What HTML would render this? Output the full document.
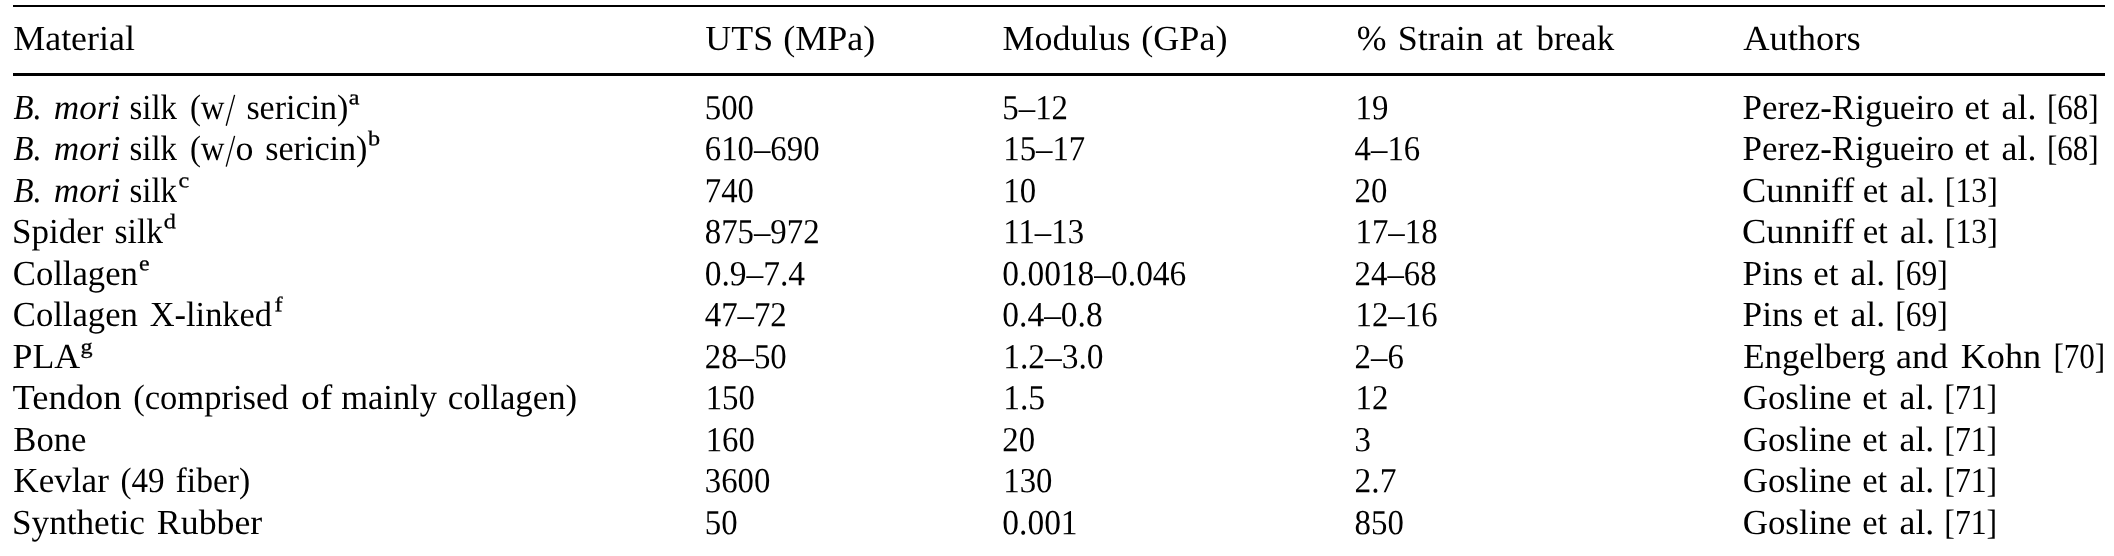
<!DOCTYPE html>
<html><head><meta charset="utf-8"><title>Table</title>
<style>
html,body{margin:0;padding:0;background:#fff;}
body{width:2114px;height:556px;position:relative;overflow:hidden;font-family:"Liberation Serif", serif;color:#000;}
.t{position:absolute;left:0;top:0;white-space:nowrap;line-height:1;font-size:35.3px;transform-origin:0 0;-webkit-text-stroke:0px #000;}
.s{font-size:21px;-webkit-text-stroke:0.3px #000;}
.i{font-style:italic;}
.r{position:absolute;left:13px;width:2092px;background:#000;}
#L{position:absolute;left:0;top:0;width:2114px;height:556px;will-change:transform;}
svg{position:absolute;left:0;top:0;}
</style></head><body>
<div class="r" style="top:5px;height:2px"></div>
<div class="r" style="top:73px;height:3px"></div>
<div id="L">
<svg width="2114" height="556" viewBox="0 0 2114 556"><line x1="226.20" y1="125.70" x2="234.60" y2="94.90" stroke="#000" stroke-width="1.35"/><line x1="226.20" y1="166.66" x2="234.60" y2="135.86" stroke="#000" stroke-width="1.35"/></svg>
<span class="t" style="transform:translate(13.29px,20.92px) scaleX(1.0170) rotate(0.03deg)">Material</span>
<span class="t" style="transform:translate(705.39px,20.92px) scaleX(1.0163) rotate(0.03deg)">UTS</span>
<span class="t" style="transform:translate(783.23px,20.92px) scaleX(1.0191) rotate(0.03deg)">(MPa)</span>
<span class="t" style="transform:translate(1002.49px,20.92px) scaleX(1.0199) rotate(0.03deg)">Modulus</span>
<span class="t" style="transform:translate(1141.22px,20.92px) scaleX(1.0229) rotate(0.03deg)">(GPa)</span>
<span class="t" style="transform:translate(1356.83px,20.92px) scaleX(1.0117) rotate(0.03deg)">%</span>
<span class="t" style="transform:translate(1397.80px,20.92px) scaleX(1.0181) rotate(0.03deg)">Strain</span>
<span class="t" style="transform:translate(1495.68px,20.92px) scaleX(1.0615) rotate(0.03deg)">at</span>
<span class="t" style="transform:translate(1536.45px,20.92px) scaleX(0.9912) rotate(0.03deg)">break</span>
<span class="t" style="transform:translate(1743.15px,20.92px) scaleX(1.0329) rotate(0.03deg)">Authors</span>
<span class="t i" style="transform:translate(13.55px,89.92px) scaleX(0.9302) rotate(0.03deg)">B.</span>
<span class="t i" style="transform:translate(53.75px,89.92px) scaleX(0.9969) rotate(0.03deg)">mori</span>
<span class="t" style="transform:translate(129.52px,89.92px) scaleX(0.9299) rotate(0.03deg)">silk</span>
<span class="t" style="transform:translate(189.92px,89.92px) scaleX(0.9299) rotate(0.03deg)">(w</span>
<span class="t" style="transform:translate(246.39px,89.92px) scaleX(0.9645) rotate(0.03deg)">sericin)</span>
<span class="t s" style="transform:translate(348.84px,87.33px) scaleX(1.1500) rotate(0.03deg)">a</span>
<span class="t" style="transform:translate(1742.60px,89.92px) scaleX(0.9905) rotate(0.03deg)">Perez-Rigueiro</span>
<span class="t" style="transform:translate(1964.47px,89.92px) scaleX(0.9758) rotate(0.03deg)">et</span>
<span class="t" style="transform:translate(2001.63px,89.92px) scaleX(1.0164) rotate(0.03deg)">al.</span>
<span class="t" style="transform:translate(2046.91px,89.92px) scaleX(0.8815) rotate(0.03deg)">[68]</span>
<span class="t i" style="transform:translate(13.55px,130.88px) scaleX(0.9302) rotate(0.03deg)">B.</span>
<span class="t i" style="transform:translate(53.75px,130.88px) scaleX(0.9969) rotate(0.03deg)">mori</span>
<span class="t" style="transform:translate(129.52px,130.88px) scaleX(0.9299) rotate(0.03deg)">silk</span>
<span class="t" style="transform:translate(189.92px,130.88px) scaleX(0.9299) rotate(0.03deg)">(w</span>
<span class="t" style="transform:translate(235.43px,130.88px) scaleX(1.0166) rotate(0.03deg)">o</span>
<span class="t" style="transform:translate(265.18px,130.88px) scaleX(0.9665) rotate(0.03deg)">sericin)</span>
<span class="t s" style="transform:translate(368.09px,128.29px) scaleX(1.1500) rotate(0.03deg)">b</span>
<span class="t" style="transform:translate(1742.60px,130.88px) scaleX(0.9905) rotate(0.03deg)">Perez-Rigueiro</span>
<span class="t" style="transform:translate(1964.47px,130.88px) scaleX(0.9758) rotate(0.03deg)">et</span>
<span class="t" style="transform:translate(2001.63px,130.88px) scaleX(1.0164) rotate(0.03deg)">al.</span>
<span class="t" style="transform:translate(2046.91px,130.88px) scaleX(0.8815) rotate(0.03deg)">[68]</span>
<span class="t i" style="transform:translate(13.55px,172.94px) scaleX(0.9302) rotate(0.03deg)">B.</span>
<span class="t i" style="transform:translate(53.75px,172.94px) scaleX(0.9969) rotate(0.03deg)">mori</span>
<span class="t" style="transform:translate(129.52px,172.94px) scaleX(0.9319) rotate(0.03deg)">silk</span>
<span class="t s" style="transform:translate(178.48px,170.35px) scaleX(1.1500) rotate(0.03deg)">c</span>
<span class="t" style="transform:translate(1742.01px,172.94px) scaleX(1.0290) rotate(0.03deg)">Cunniff</span>
<span class="t" style="transform:translate(1862.66px,172.94px) scaleX(0.9880) rotate(0.03deg)">et</span>
<span class="t" style="transform:translate(1899.93px,172.94px) scaleX(1.0197) rotate(0.03deg)">al.</span>
<span class="t" style="transform:translate(1944.86px,172.94px) scaleX(0.8999) rotate(0.03deg)">[13]</span>
<span class="t" style="transform:translate(12.06px,213.90px) scaleX(0.9913) rotate(0.03deg)">Spider</span>
<span class="t" style="transform:translate(114.60px,213.90px) scaleX(0.9479) rotate(0.03deg)">silk</span>
<span class="t s" style="transform:translate(163.64px,211.31px) scaleX(1.1500) rotate(0.03deg)">d</span>
<span class="t" style="transform:translate(1742.01px,213.90px) scaleX(1.0290) rotate(0.03deg)">Cunniff</span>
<span class="t" style="transform:translate(1862.66px,213.90px) scaleX(0.9880) rotate(0.03deg)">et</span>
<span class="t" style="transform:translate(1899.93px,213.90px) scaleX(1.0197) rotate(0.03deg)">al.</span>
<span class="t" style="transform:translate(1944.86px,213.90px) scaleX(0.8999) rotate(0.03deg)">[13]</span>
<span class="t" style="transform:translate(12.77px,255.96px) scaleX(0.9823) rotate(0.03deg)">Collagen</span>
<span class="t s" style="transform:translate(139.01px,253.37px) scaleX(1.1337) rotate(0.03deg)">e</span>
<span class="t" style="transform:translate(1742.60px,255.96px) scaleX(0.9962) rotate(0.03deg)">Pins</span>
<span class="t" style="transform:translate(1813.26px,255.96px) scaleX(0.9880) rotate(0.03deg)">et</span>
<span class="t" style="transform:translate(1850.54px,255.96px) scaleX(1.0067) rotate(0.03deg)">al.</span>
<span class="t" style="transform:translate(1895.28px,255.96px) scaleX(0.8926) rotate(0.03deg)">[69]</span>
<span class="t" style="transform:translate(12.77px,296.92px) scaleX(0.9823) rotate(0.03deg)">Collagen</span>
<span class="t" style="transform:translate(149.71px,296.92px) scaleX(0.9750) rotate(0.03deg)">X-linked</span>
<span class="t s" style="transform:translate(274.56px,294.33px) scaleX(1.1500) rotate(0.03deg)">f</span>
<span class="t" style="transform:translate(1742.60px,296.92px) scaleX(0.9962) rotate(0.03deg)">Pins</span>
<span class="t" style="transform:translate(1813.26px,296.92px) scaleX(0.9880) rotate(0.03deg)">et</span>
<span class="t" style="transform:translate(1850.54px,296.92px) scaleX(1.0067) rotate(0.03deg)">al.</span>
<span class="t" style="transform:translate(1895.28px,296.92px) scaleX(0.8926) rotate(0.03deg)">[69]</span>
<span class="t" style="transform:translate(12.49px,338.98px) scaleX(1.0149) rotate(0.03deg)">PLA</span>
<span class="t s" style="transform:translate(80.47px,336.39px) scaleX(1.1500) rotate(0.03deg)">g</span>
<span class="t" style="transform:translate(1743.21px,338.98px) scaleX(0.9866) rotate(0.03deg)">Engelberg</span>
<span class="t" style="transform:translate(1896.13px,338.98px) scaleX(1.0168) rotate(0.03deg)">and</span>
<span class="t" style="transform:translate(1960.68px,338.98px) scaleX(1.0258) rotate(0.03deg)">Kohn</span>
<span class="t" style="transform:translate(2053.41px,338.98px) scaleX(0.8815) rotate(0.03deg)">[70]</span>
<span class="t" style="transform:translate(12.48px,379.94px) scaleX(1.0342) rotate(0.03deg)">Tendon</span>
<span class="t" style="transform:translate(133.27px,379.94px) scaleX(0.9785) rotate(0.03deg)">(comprised</span>
<span class="t" style="transform:translate(300.98px,379.94px) scaleX(1.0634) rotate(0.03deg)">of</span>
<span class="t" style="transform:translate(341.21px,379.94px) scaleX(0.9765) rotate(0.03deg)">mainly</span>
<span class="t" style="transform:translate(447.86px,379.94px) scaleX(0.9841) rotate(0.03deg)">collagen)</span>
<span class="t" style="transform:translate(1742.66px,379.94px) scaleX(0.9904) rotate(0.03deg)">Gosline</span>
<span class="t" style="transform:translate(1862.27px,379.94px) scaleX(0.9799) rotate(0.03deg)">et</span>
<span class="t" style="transform:translate(1899.53px,379.94px) scaleX(1.0132) rotate(0.03deg)">al.</span>
<span class="t" style="transform:translate(1944.37px,379.94px) scaleX(0.8981) rotate(0.03deg)">[71]</span>
<span class="t" style="transform:translate(13.31px,422.00px) scaleX(0.9824) rotate(0.03deg)">Bone</span>
<span class="t" style="transform:translate(1742.66px,422.00px) scaleX(0.9904) rotate(0.03deg)">Gosline</span>
<span class="t" style="transform:translate(1862.27px,422.00px) scaleX(0.9799) rotate(0.03deg)">et</span>
<span class="t" style="transform:translate(1899.53px,422.00px) scaleX(1.0132) rotate(0.03deg)">al.</span>
<span class="t" style="transform:translate(1944.37px,422.00px) scaleX(0.8981) rotate(0.03deg)">[71]</span>
<span class="t" style="transform:translate(13.30px,462.96px) scaleX(0.9956) rotate(0.03deg)">Kevlar</span>
<span class="t" style="transform:translate(120.42px,462.96px) scaleX(0.9365) rotate(0.03deg)">(49</span>
<span class="t" style="transform:translate(175.62px,462.96px) scaleX(0.9521) rotate(0.03deg)">fiber)</span>
<span class="t" style="transform:translate(1742.66px,462.96px) scaleX(0.9904) rotate(0.03deg)">Gosline</span>
<span class="t" style="transform:translate(1862.27px,462.96px) scaleX(0.9799) rotate(0.03deg)">et</span>
<span class="t" style="transform:translate(1899.53px,462.96px) scaleX(1.0132) rotate(0.03deg)">al.</span>
<span class="t" style="transform:translate(1944.37px,462.96px) scaleX(0.8981) rotate(0.03deg)">[71]</span>
<span class="t" style="transform:translate(12.05px,505.02px) scaleX(0.9957) rotate(0.03deg)">Synthetic</span>
<span class="t" style="transform:translate(156.89px,505.02px) scaleX(1.0136) rotate(0.03deg)">Rubber</span>
<span class="t" style="transform:translate(1742.66px,505.02px) scaleX(0.9904) rotate(0.03deg)">Gosline</span>
<span class="t" style="transform:translate(1862.27px,505.02px) scaleX(0.9799) rotate(0.03deg)">et</span>
<span class="t" style="transform:translate(1899.53px,505.02px) scaleX(1.0132) rotate(0.03deg)">al.</span>
<span class="t" style="transform:translate(1944.37px,505.02px) scaleX(0.8981) rotate(0.03deg)">[71]</span>
<span class="t" style="transform:translate(704.74px,90.22px) scaleX(0.9299) rotate(0.03deg)">500</span>
<span class="t" style="transform:translate(1002.34px,90.22px) scaleX(0.9299) rotate(0.03deg)">5–12</span>
<span class="t" style="transform:translate(1355.51px,90.22px) scaleX(0.9299) rotate(0.03deg)">19</span>
<span class="t" style="transform:translate(704.74px,131.18px) scaleX(0.9299) rotate(0.03deg)">610–690</span>
<span class="t" style="transform:translate(1003.24px,131.18px) scaleX(0.9299) rotate(0.03deg)">15–17</span>
<span class="t" style="transform:translate(1354.61px,131.18px) scaleX(0.9299) rotate(0.03deg)">4–16</span>
<span class="t" style="transform:translate(704.74px,173.24px) scaleX(0.9299) rotate(0.03deg)">740</span>
<span class="t" style="transform:translate(1003.24px,173.24px) scaleX(0.9299) rotate(0.03deg)">10</span>
<span class="t" style="transform:translate(1354.61px,173.24px) scaleX(0.9299) rotate(0.03deg)">20</span>
<span class="t" style="transform:translate(704.74px,214.20px) scaleX(0.9299) rotate(0.03deg)">875–972</span>
<span class="t" style="transform:translate(1003.24px,214.20px) scaleX(0.9299) rotate(0.03deg)">11–13</span>
<span class="t" style="transform:translate(1355.51px,214.20px) scaleX(0.9299) rotate(0.03deg)">17–18</span>
<span class="t" style="transform:translate(704.74px,256.26px) scaleX(0.9478) rotate(0.03deg)">0.9–7.4</span>
<span class="t" style="transform:translate(1002.34px,256.26px) scaleX(0.9478) rotate(0.03deg)">0.0018–0.046</span>
<span class="t" style="transform:translate(1354.61px,256.26px) scaleX(0.9299) rotate(0.03deg)">24–68</span>
<span class="t" style="transform:translate(704.74px,297.22px) scaleX(0.9299) rotate(0.03deg)">47–72</span>
<span class="t" style="transform:translate(1002.34px,297.22px) scaleX(0.9478) rotate(0.03deg)">0.4–0.8</span>
<span class="t" style="transform:translate(1355.51px,297.22px) scaleX(0.9299) rotate(0.03deg)">12–16</span>
<span class="t" style="transform:translate(704.74px,339.28px) scaleX(0.9299) rotate(0.03deg)">28–50</span>
<span class="t" style="transform:translate(1003.24px,339.28px) scaleX(0.9478) rotate(0.03deg)">1.2–3.0</span>
<span class="t" style="transform:translate(1354.61px,339.28px) scaleX(0.9299) rotate(0.03deg)">2–6</span>
<span class="t" style="transform:translate(705.64px,380.24px) scaleX(0.9299) rotate(0.03deg)">150</span>
<span class="t" style="transform:translate(1003.24px,380.24px) scaleX(0.9478) rotate(0.03deg)">1.5</span>
<span class="t" style="transform:translate(1355.51px,380.24px) scaleX(0.9299) rotate(0.03deg)">12</span>
<span class="t" style="transform:translate(705.64px,422.30px) scaleX(0.9299) rotate(0.03deg)">160</span>
<span class="t" style="transform:translate(1002.34px,422.30px) scaleX(0.9299) rotate(0.03deg)">20</span>
<span class="t" style="transform:translate(1354.61px,422.30px) scaleX(0.9299) rotate(0.03deg)">3</span>
<span class="t" style="transform:translate(704.74px,463.26px) scaleX(0.9299) rotate(0.03deg)">3600</span>
<span class="t" style="transform:translate(1003.24px,463.26px) scaleX(0.9299) rotate(0.03deg)">130</span>
<span class="t" style="transform:translate(1354.61px,463.26px) scaleX(0.9478) rotate(0.03deg)">2.7</span>
<span class="t" style="transform:translate(704.74px,505.32px) scaleX(0.9299) rotate(0.03deg)">50</span>
<span class="t" style="transform:translate(1002.34px,505.32px) scaleX(0.9478) rotate(0.03deg)">0.001</span>
<span class="t" style="transform:translate(1354.61px,505.32px) scaleX(0.9299) rotate(0.03deg)">850</span>
</div></body></html>
